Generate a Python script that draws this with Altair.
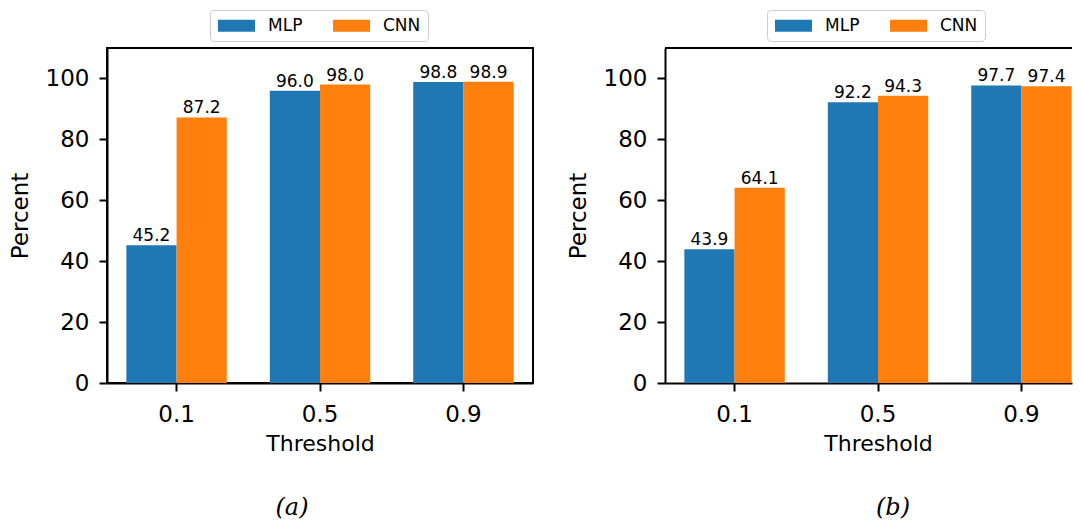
import altair as alt
import pandas as pd

thresholds = ["0.1", "0.5", "0.9"]
models = ["MLP", "CNN"]
mlp_a = [45.2, 96.0, 98.8]
cnn_a = [87.2, 98.0, 98.9]
mlp_b = [43.9, 92.2, 97.7]
cnn_b = [64.1, 94.3, 97.4]
colors = ["#1f77b4", "#ff7f0e"]
y_ticks = [0, 20, 40, 60, 80, 100]
y_max = 110


def make_df(mlp, cnn):
    rows = []
    for t, m, c in zip(thresholds, mlp, cnn):
        rows.append({"Threshold": t, "Model": "MLP", "Percent": m})
        rows.append({"Threshold": t, "Model": "CNN", "Percent": c})
    return pd.DataFrame(rows)


FONT = "DejaVu Sans"
FULL_W = 426
B_W = 407
STEP = FULL_W / 2.97
PO_B = (B_W / STEP - 2.7) / 2
ALIGN_B = 0.135 / (2 * PO_B)


def panel(df, caption, cap_dx, width, po, align, legend_x, box):
    base = alt.Chart(df).encode(
        x=alt.X(
            "Threshold:N",
            sort=thresholds,
            scale=alt.Scale(paddingInner=0.3, paddingOuter=po, align=align),
            axis=alt.Axis(
                title="Threshold",
                titleX=FULL_W / 2,
                labelAngle=0,
                labelFontSize=23,
                labelFont=FONT,
                labelColor="black",
                labelPadding=12,
                titleFontSize=22,
                titleFont=FONT,
                titleFontWeight="normal",
                titleColor="black",
                titlePadding=7,
                domainColor="black",
                domainWidth=2,
                tickColor="black",
                tickWidth=2,
                tickSize=8,
                grid=False,
            ),
        ),
        xOffset=alt.XOffset(
            "Model:N", sort=models, scale=alt.Scale(paddingInner=0, paddingOuter=0)
        ),
        y=alt.Y(
            "Percent:Q",
            scale=alt.Scale(domain=[0, y_max], nice=False, zero=True),
            axis=alt.Axis(
                title="Percent",
                values=y_ticks,
                labelFontSize=23,
                labelFont=FONT,
                labelColor="black",
                labelPadding=10,
                titleFontSize=23,
                titleFont=FONT,
                titleFontWeight="normal",
                titleColor="black",
                titlePadding=13,
                domainColor="black",
                domainWidth=2,
                tickColor="black",
                tickWidth=2,
                tickSize=8,
                grid=False,
            ),
        ),
    )
    bars = base.mark_bar().encode(
        color=alt.Color(
            "Model:N",
            sort=models,
            scale=alt.Scale(domain=models, range=colors),
            legend=alt.Legend(
                title=None,
                orient="none",
                legendX=legend_x,
                legendY=-38,
                direction="horizontal",
                columns=2,
                strokeColor="#cccccc",
                cornerRadius=4,
                fillColor="white",
                padding=7,
                symbolType="M-2.47,-0.8H2.47V0.8H-2.47Z",
                symbolSize=225,
                symbolOffset=11,
                symbolStrokeWidth=0,
                symbolOpacity=1,
                labelFontSize=17,
                labelFont=FONT,
                labelColor="black",
                labelOffset=23,
                columnPadding=29,
            ),
        )
    )
    labels = base.mark_text(
        baseline="alphabetic", dy=-4, fontSize=17, font=FONT, color="black"
    ).encode(text=alt.Text("Percent:Q", format=".1f"))
    layers = [bars, labels]
    if box:
        view = alt.ViewBackground(stroke="black", strokeWidth=2)
    else:
        view = alt.ViewBackground(stroke="transparent", strokeWidth=0)
        top_spine = (
            alt.Chart(pd.DataFrame({"top": [y_max]}))
            .mark_rule(color="black", strokeWidth=2)
            .encode(y=alt.Y("top:Q"))
        )
        layers.append(top_spine)
    return alt.layer(*layers).properties(
        width=width,
        height=335,
        view=view,
        title=alt.TitleParams(
            text=caption,
            orient="bottom",
            anchor="middle",
            font="DejaVu Serif",
            fontStyle="italic",
            fontWeight="normal",
            fontSize=24,
            color="black",
            dx=cap_dx,
            offset=42,
        ),
    )


chart_a = panel(make_df(mlp_a, cnn_a), "(a)", -28, FULL_W, 0.135, 0.5, 103, True)
chart_b = panel(
    make_df(mlp_b, cnn_b), "(b)", 15 + (FULL_W - B_W) / 2, B_W, PO_B, ALIGN_B, 102, False
)

chart = (
    alt.hconcat(chart_a, chart_b, spacing=33)
    .resolve_scale(color="independent")
    .resolve_legend(color="independent")
    .configure(padding={"left": 0, "top": 0, "right": 0, "bottom": 0}, background="white")
)

chart.save("out.html", embed_options={"renderer": "svg", "actions": False})
